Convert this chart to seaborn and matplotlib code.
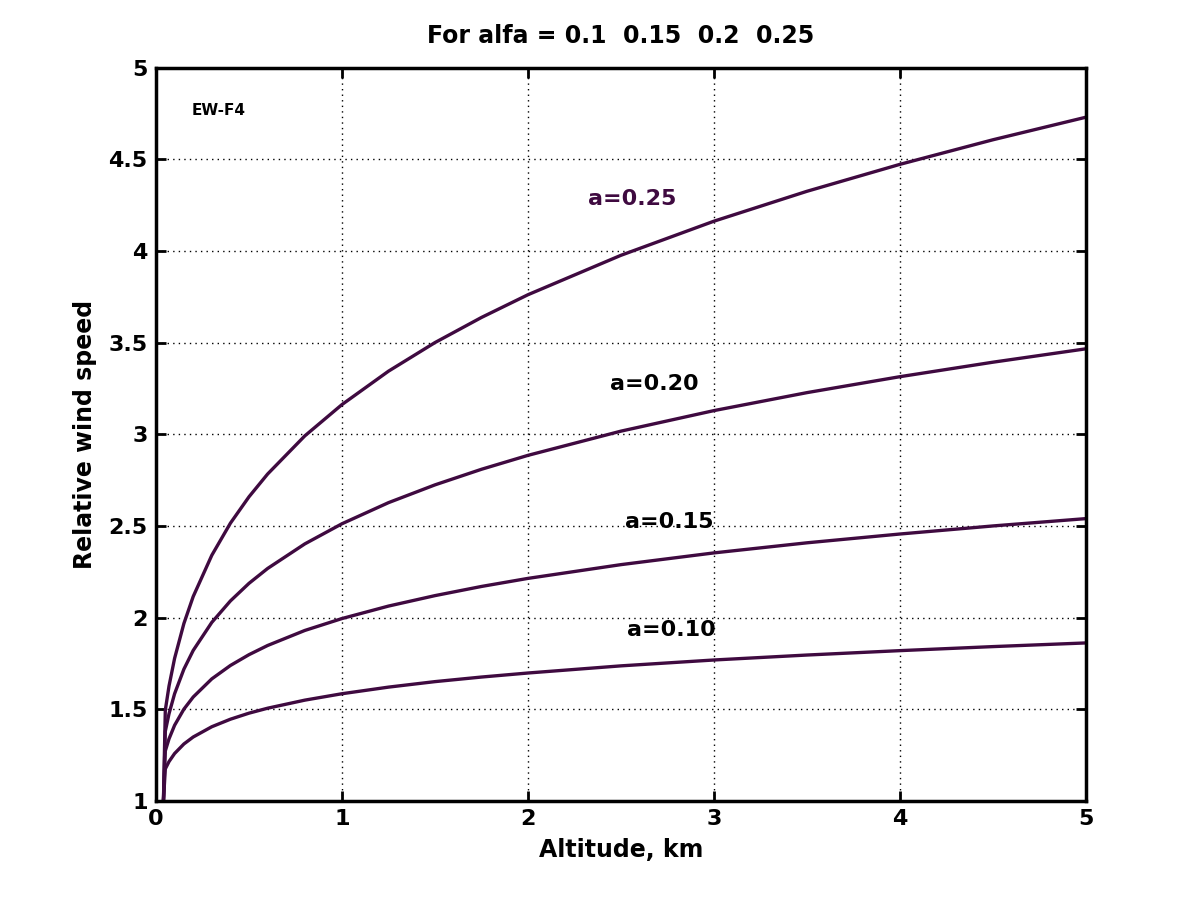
import pandas as pd
import numpy as np
import matplotlib.pyplot as plt
import seaborn as sns

# values
altitude = [0.04, 0.05, 0.07, 0.1, 0.15, 0.2, 0.3, 0.4, 0.5, 0.6, 0.8, 1.0,
            1.25, 1.5, 1.75, 2.0, 2.5, 3.0, 3.5, 4.0, 4.5, 5.0]
speed_010 = [1.0, 1.175, 1.215, 1.259, 1.311, 1.349, 1.405, 1.446, 1.479, 1.506, 1.550, 1.585,
             1.621, 1.651, 1.676, 1.698, 1.737, 1.769, 1.796, 1.820, 1.842, 1.862]
speed_015 = [1.0, 1.273, 1.339, 1.413, 1.501, 1.567, 1.666, 1.739, 1.798, 1.848, 1.930, 1.995,
             2.063, 2.120, 2.170, 2.214, 2.289, 2.353, 2.408, 2.456, 2.500, 2.540]
speed_020 = [1.0, 1.380, 1.476, 1.585, 1.719, 1.821, 1.974, 2.091, 2.187, 2.268, 2.402, 2.512,
             2.627, 2.724, 2.809, 2.885, 3.017, 3.129, 3.227, 3.314, 3.393, 3.466]
speed_025 = [1.0, 1.495, 1.627, 1.778, 1.968, 2.115, 2.340, 2.515, 2.659, 2.783, 2.991, 3.162,
             3.344, 3.500, 3.637, 3.761, 3.976, 4.162, 4.325, 4.472, 4.606, 4.729]

alphas = ['0.10', '0.15', '0.20', '0.25']
series = [speed_010, speed_015, speed_020, speed_025]

rows = []
for a, s in zip(alphas, series):
    for h, v in zip(altitude, s):
        rows.append({'alt': h, 'speed': v, 'alpha': a})
df = pd.DataFrame(rows)

sns.set_style("white")
plt.rcParams['font.family'] = ['DejaVu Sans']
plt.rcParams['font.weight'] = 'bold'
plt.rcParams['text.color'] = 'black'
plt.rcParams['axes.labelcolor'] = 'black'
plt.rcParams['xtick.color'] = 'black'
plt.rcParams['ytick.color'] = 'black'

line_color = '#3f0a40'

fig = plt.figure(figsize=(12, 9), dpi=100)
ax = fig.add_axes([0.13, 0.11, 0.775, 0.815])

sns.lineplot(data=df, x='alt', y='speed', units='alpha', estimator=None,
             color=line_color, linewidth=2.4, ax=ax, sort=False)

ax.set_xlim(0, 5)
ax.set_ylim(1, 5)
ax.set_xticks([0, 1, 2, 3, 4, 5])
ax.set_yticks([1, 1.5, 2, 2.5, 3, 3.5, 4, 4.5, 5])
ax.set_yticklabels(['1', '1.5', '2', '2.5', '3', '3.5', '4', '4.5', '5'])
ax.grid(True, linestyle=(0, (1, 3)), color='black', linewidth=1.0)
ax.tick_params(direction='in', length=7, width=2, labelsize=16,
               top=True, right=True, bottom=True, left=True, pad=6)
for sp in ax.spines.values():
    sp.set_linewidth(2.5)
    sp.set_color('black')

ax.set_xlabel('Altitude, km', fontsize=17, fontweight='bold', labelpad=6)
ax.set_ylabel('Relative wind speed', fontsize=17, fontweight='bold', labelpad=8)
ax.set_title('For alfa = 0.1  0.15  0.2  0.25', fontsize=17, fontweight='bold', pad=18)

ax.text(2.32, 4.285, 'a=0.25', fontsize=16, fontweight='bold', color=line_color, va='center')
ax.text(2.44, 3.276, 'a=0.20', fontsize=16, fontweight='bold', color='black', va='center')
ax.text(2.52, 2.52, 'a=0.15', fontsize=16, fontweight='bold', color='black', va='center')
ax.text(2.53, 1.93, 'a=0.10', fontsize=16, fontweight='bold', color='black', va='center')
ax.text(0.19, 4.765, 'EW-F4', fontsize=11, fontweight='bold', color='black', va='center')

fig.savefig('out.png', dpi=100)
